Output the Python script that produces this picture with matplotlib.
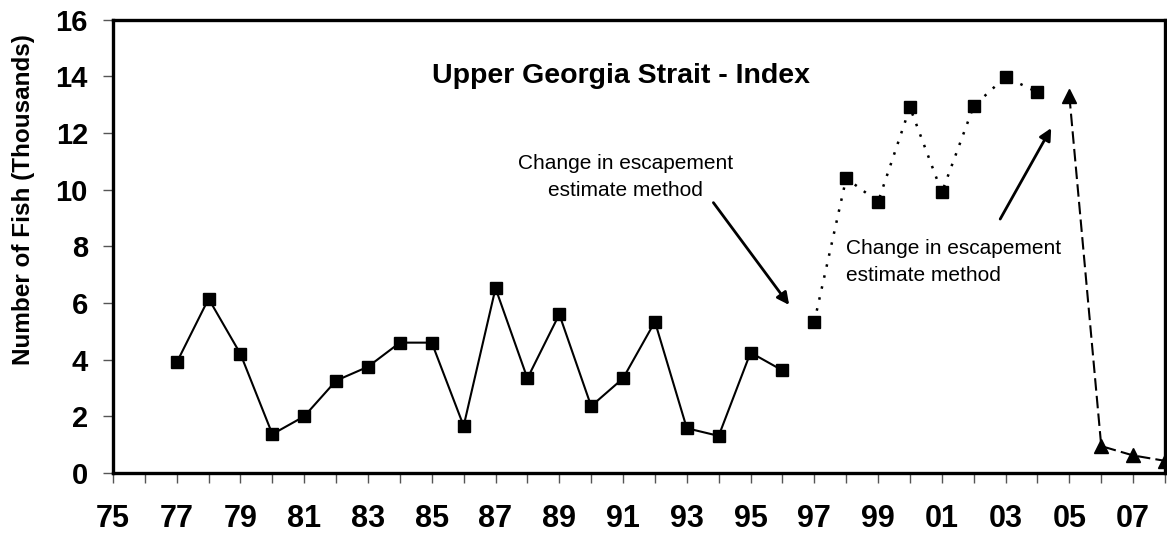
import matplotlib
matplotlib.use("Agg")
import matplotlib.pyplot as plt

plt.rcParams['font.family'] = ['Liberation Sans', 'DejaVu Sans']

# escapement index, thousands of fish
years_old = [1977, 1978, 1979, 1980, 1981, 1982, 1983, 1984, 1985, 1986,
             1987, 1988, 1989, 1990, 1991, 1992, 1993, 1994, 1995, 1996]
fish_old = [3.9, 6.15, 4.2, 1.37, 2.0, 3.26, 3.75, 4.6, 4.6, 1.66,
            6.52, 3.34, 5.6, 2.36, 3.34, 5.34, 1.58, 1.31, 4.25, 3.62]

years_mid = [1997, 1998, 1999, 2000, 2001, 2002, 2003, 2004]
fish_mid = [5.34, 10.4, 9.57, 12.9, 9.9, 12.95, 13.98, 13.43]

years_new = [2005, 2006, 2007, 2008]
fish_new = [13.3, 0.95, 0.62, 0.43]

year_ticks = list(range(1975, 2009))
year_labels = [("%02d" % (y % 100)) if y % 2 == 1 else "" for y in year_ticks]
y_ticks = [0, 2, 4, 6, 8, 10, 12, 14, 16]

fig = plt.figure(figsize=(11.67, 5.39), dpi=100)
ax = fig.add_axes([0.0968, 0.1224, 0.9015, 0.8414])

ax.plot(years_old, fish_old, color='black', lw=1.5, marker='s', ms=8)
ax.plot(years_mid, fish_mid, color='black', lw=1.8, ls=(0, (1, 3.5)),
        marker='s', ms=8)
ax.plot(years_new, fish_new, color='black', lw=1.5, ls=(0, (6, 2.5)),
        marker='^', ms=10)

ax.set_xlim(1975, 2008)
ax.set_ylim(0, 16)
ax.set_xticks(year_ticks)
ax.set_xticklabels(year_labels, fontsize=22, fontweight='bold')
ax.set_yticks(y_ticks)
ax.set_yticklabels([str(v) for v in y_ticks], fontsize=21, fontweight='bold')
ax.tick_params(axis='x', direction='out', length=7, width=1, pad=15,
               color='#555555')
ax.tick_params(axis='y', direction='out', length=7, width=1, pad=11,
               color='#555555')
for s in ax.spines.values():
    s.set_linewidth(2.4)

ax.text(1990.94, 14.0, "Upper Georgia Strait - Index", fontsize=20.5,
        fontweight='bold', ha='center', va='center')

ax.annotate("Change in escapement\nestimate method", xy=(1996.21, 5.93),
            xytext=(1991.07, 10.44), ha='center', va='center', fontsize=15,
            linespacing=1.5,
            arrowprops=dict(arrowstyle='-|>', color='black', lw=2,
                            mutation_scale=18, shrinkA=0, shrinkB=0,
                            relpos=(0.9, 0.0)))
ax.annotate("Change in escapement\nestimate method", xy=(2004.43, 12.17),
            xytext=(1998.0, 7.45), ha='left', va='center', fontsize=15,
            linespacing=1.5)
ax.annotate("", xy=(2004.43, 12.17), xytext=(2002.83, 8.96),
            arrowprops=dict(arrowstyle='-|>', color='black', lw=2,
                            mutation_scale=18, shrinkA=0, shrinkB=0))

fig.text(0.02, 0.629, "Number of Fish (Thousands)", rotation=90, fontsize=17.5,
         fontweight='bold', ha='center', va='center')

fig.savefig("out.png", dpi=100)
